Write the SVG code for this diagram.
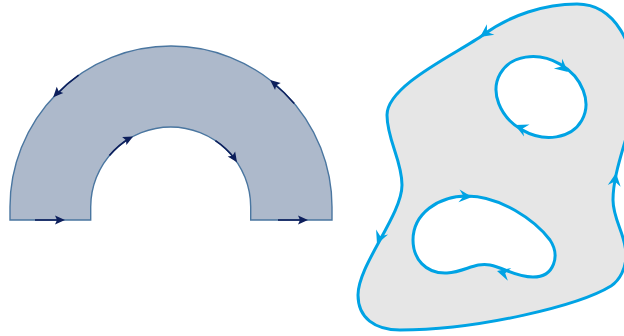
<svg xmlns="http://www.w3.org/2000/svg" width="624" height="336" viewBox="0 0 624 336">
<style>
.ann{fill:#adb9cb;stroke:#4a76a0;stroke-width:1.4}
.dk{fill:none;stroke:#0d1f5c;stroke-width:1.6}
.ah{fill:#0d1f5c}
.blob{fill:#e6e6e6;stroke:#00a3e4;stroke-width:3;stroke-linejoin:round}
.hole{fill:#ffffff;stroke:#00a3e4;stroke-width:3}
.bh{fill:#00a3e4}
</style>
<defs>
<path id="nav" d="M0,0 L-10,-4.5 L-8,0 L-10,4.5 Z"/>
<path id="cy" d="M0,0 L-13,-6.5 L-8.5,0 L-13,6.5 Z"/>
</defs>
<g id="annulus">
<path class="ann" d="M10,220 L90.7,220 L90.7,207 A80,80 0 0 1 250.7,207 L250.7,220 L332,220 L332,207 A161,161 0 0 0 10,207 Z"/>
</g>
<g id="annulus-arrows">
<path class="dk" d="M35,220 L60,220"/>
<use href="#nav" class="ah" transform="translate(65,220)"/>
<path class="dk" d="M278,220 L303,220"/>
<use href="#nav" class="ah" transform="translate(308,220)"/>
<path class="dk" d="M78.6,75.1 A161,161 0 0 0 56,95"/>
<use href="#nav" class="ah" transform="translate(53.2,97.2) rotate(133)"/>
<path class="dk" d="M294.3,103.5 A161,161 0 0 0 273,83"/>
<use href="#nav" class="ah" transform="translate(270.1,80.1) rotate(-141)"/>
<path class="dk" d="M109.4,155.6 A80,80 0 0 1 130,138"/>
<use href="#nav" class="ah" transform="translate(133.1,136.4) rotate(-28)"/>
<path class="dk" d="M215.4,140.7 A80,80 0 0 1 235,159"/>
<use href="#nav" class="ah" transform="translate(237,162.3) rotate(56)"/>
</g>
<g id="region">
<path class="blob" d="M577,4 C545,4 510,15 483,35 C458,53 387,85 387,115 C387,140 402,160 402,185 C402,215 358,265 358,295 C358,318 375,330 400,330 C480,330 580,305 611,286 C620,280 626,268 626,255 C626,235 613,220 613,200 C613,165 635,125 635,90 C636,45 615,4 577,4 Z"/>
</g>
<g id="hole-upper">
<ellipse class="hole" cx="541" cy="97" rx="47" ry="38" transform="rotate(30 541 97)"/>
</g>
<g id="hole-lower">
<path class="hole" d="M413,240 C413,214 438,196 467,196 C500,196 535,220 550,240 C560,255 555,277 533,277 C515,277 505,268 490,265 C475,262 465,272 447,273 C425,274 413,258 413,240 Z"/>
</g>
<g id="region-arrows">
<use href="#cy" class="bh" transform="translate(480,37) rotate(145)"/>
<use href="#cy" class="bh" transform="translate(377,244) rotate(113)"/>
<use href="#cy" class="bh" transform="translate(616,173) rotate(-82)"/>
<use href="#cy" class="bh" transform="translate(568,72) rotate(40)"/>
<use href="#cy" class="bh" transform="translate(515,125) rotate(205)"/>
<use href="#cy" class="bh" transform="translate(472,197) rotate(5)"/>
<use href="#cy" class="bh" transform="translate(497,271) rotate(195)"/>
</g>
</svg>
